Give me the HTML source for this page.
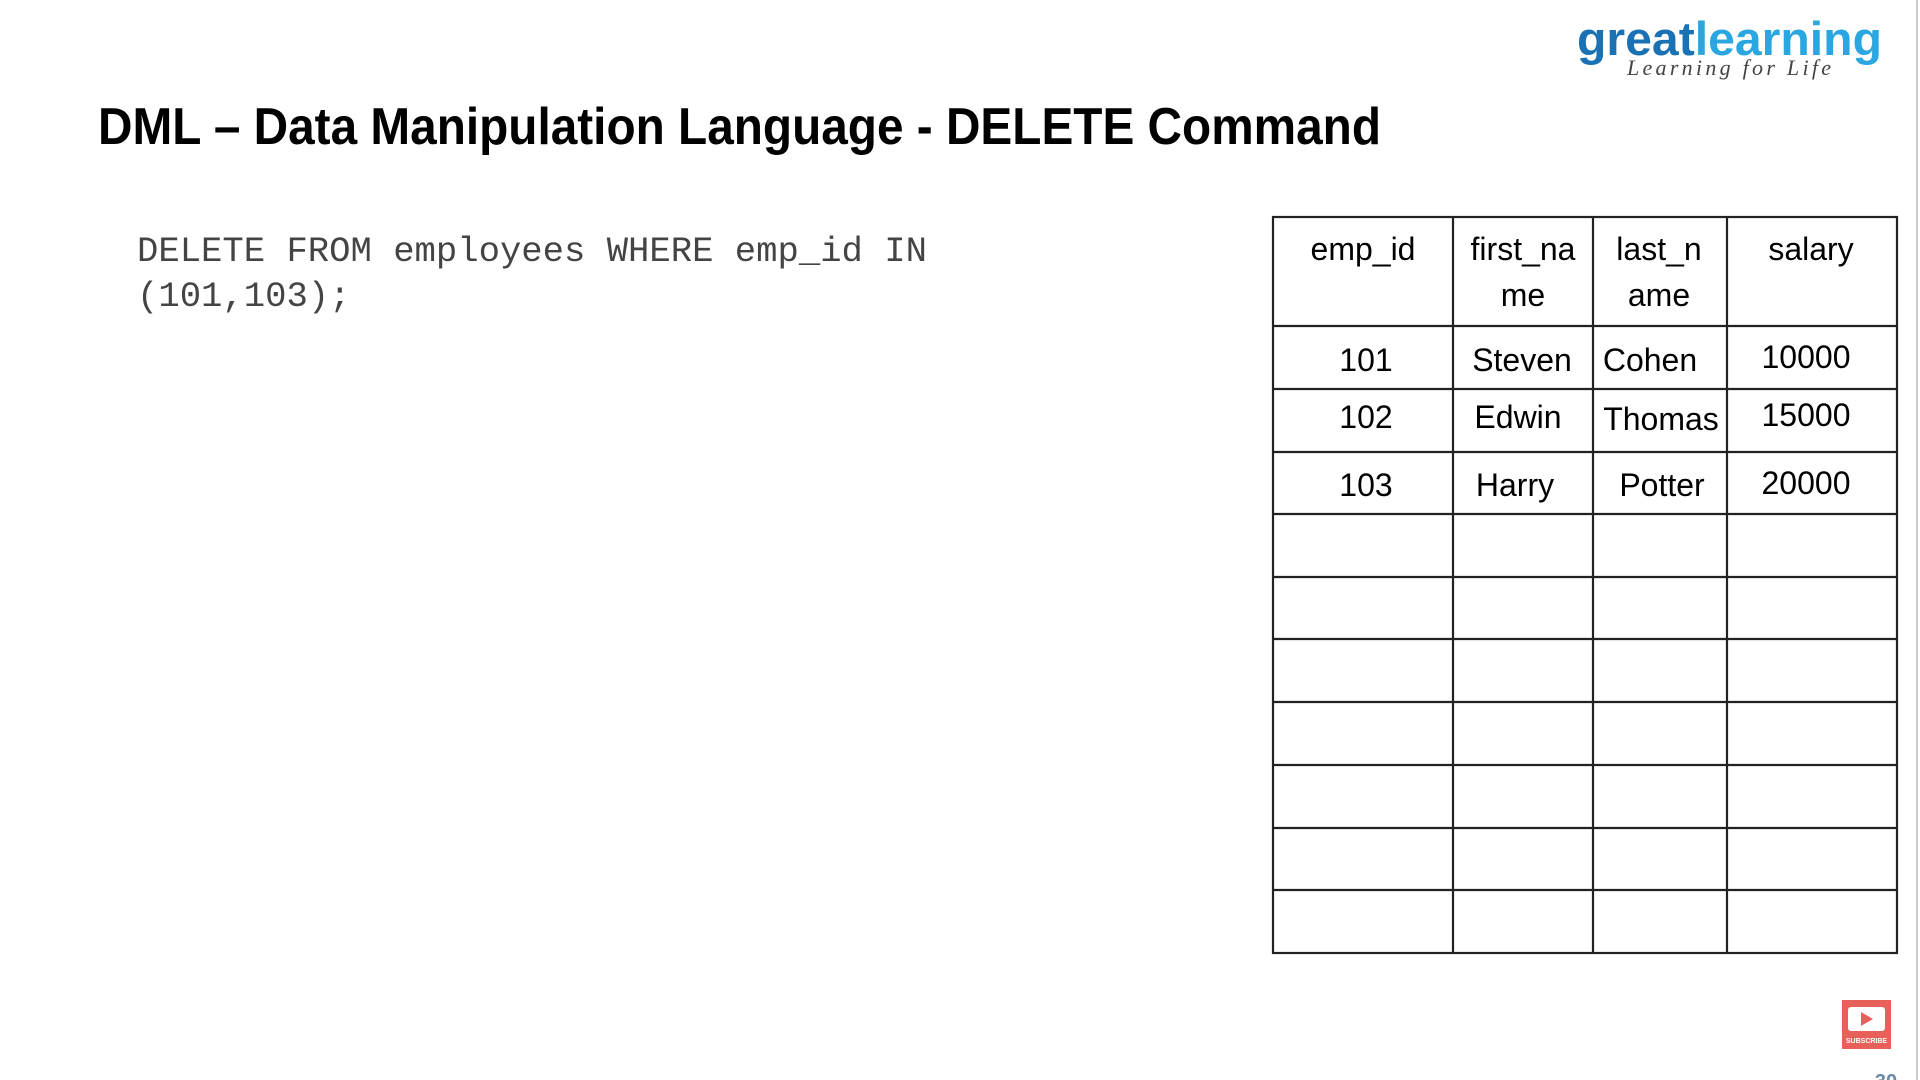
<!DOCTYPE html>
<html><head><meta charset="utf-8"><style>html,body{margin:0;padding:0;background:#fff;}svg{display:block}</style></head>
<body>
<svg width="1920" height="1080" xmlns="http://www.w3.org/2000/svg">
<rect width="1920" height="1080" fill="#fff"/>
<line x1="1917" y1="0" x2="1917" y2="1080" stroke="#ccc" stroke-width="2"/>
<!-- logo -->
<text x="1577" y="55" font-family="Liberation Sans, sans-serif" font-weight="bold" font-size="47" textLength="305" lengthAdjust="spacingAndGlyphs"><tspan fill="#1a72b5">great</tspan><tspan fill="#2aa6e0">learning</tspan></text>
<text x="1627" y="75" font-family="Liberation Serif, serif" font-style="italic" font-size="22" fill="#444" textLength="204" lengthAdjust="spacing">Learning for Life</text>
<!-- title -->
<text x="98" y="144" font-family="Liberation Sans, sans-serif" font-weight="bold" font-size="52" fill="#000" textLength="1283" lengthAdjust="spacingAndGlyphs">DML – Data Manipulation Language - DELETE Command</text>
<!-- code -->
<g font-family="Liberation Mono, monospace" font-size="35.6" fill="#444">
<text x="137" y="261">DELETE FROM employees WHERE emp_id IN</text>
<text x="137" y="306">(101,103);</text>
</g>
<!-- table -->
<g stroke="#222" stroke-width="2.2" fill="none">
<rect x="1273" y="217" width="624" height="736"/>
<line x1="1453" y1="217" x2="1453" y2="953"/>
<line x1="1593" y1="217" x2="1593" y2="953"/>
<line x1="1727" y1="217" x2="1727" y2="953"/>
<line x1="1273" y1="326" x2="1897" y2="326"/>
<line x1="1273" y1="389" x2="1897" y2="389"/>
<line x1="1273" y1="452" x2="1897" y2="452"/>
<line x1="1273" y1="514" x2="1897" y2="514"/>
<line x1="1273" y1="577" x2="1897" y2="577"/>
<line x1="1273" y1="639" x2="1897" y2="639"/>
<line x1="1273" y1="702" x2="1897" y2="702"/>
<line x1="1273" y1="765" x2="1897" y2="765"/>
<line x1="1273" y1="828" x2="1897" y2="828"/>
<line x1="1273" y1="890" x2="1897" y2="890"/>
</g>
<g font-family="Liberation Sans, sans-serif" font-size="32" fill="#000" text-anchor="middle">
<text x="1363" y="260">emp_id</text>
<text x="1523" y="260">first_na</text>
<text x="1523" y="306">me</text>
<text x="1659" y="260">last_n</text>
<text x="1659" y="306">ame</text>
<text x="1811" y="260">salary</text>
<text x="1366" y="371">101</text>
<text x="1522" y="371">Steven</text>
<text x="1650" y="371">Cohen</text>
<text x="1806" y="368">10000</text>
<text x="1366" y="428">102</text>
<text x="1518" y="428">Edwin</text>
<text x="1661" y="430">Thomas</text>
<text x="1806" y="426">15000</text>
<text x="1366" y="496">103</text>
<text x="1515" y="496">Harry</text>
<text x="1662" y="496">Potter</text>
<text x="1806" y="494">20000</text>
</g>
<!-- subscribe -->
<rect x="1842" y="1000" width="49" height="49" fill="#e8605a"/>
<rect x="1848" y="1007" width="37" height="24" rx="3" fill="#fff"/>
<polygon points="1861,1012 1861,1026 1873,1019" fill="#e8605a"/>
<text x="1866.5" y="1043" font-family="Liberation Sans, sans-serif" font-weight="bold" font-size="7" fill="#fff" text-anchor="middle">SUBSCRIBE</text>
<text x="1886" y="1088" font-family="Liberation Sans, sans-serif" font-weight="bold" font-size="20" fill="#6a8aa8" text-anchor="middle">30</text>
</svg>
</body></html>
